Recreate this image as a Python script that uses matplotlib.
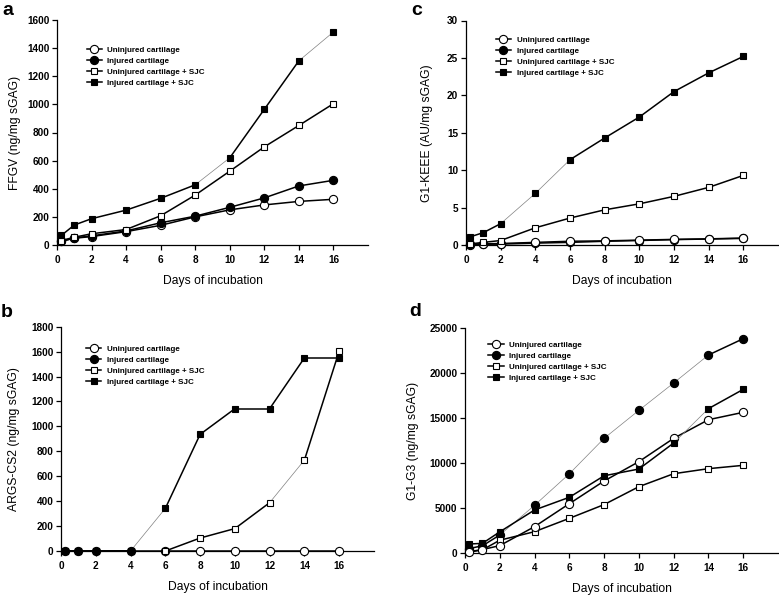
import numpy as np
import matplotlib
matplotlib.use("Agg")
import matplotlib.pyplot as plt
from matplotlib.lines import Line2D

plt.rcParams['font.family'] = ['Liberation Sans', 'DejaVu Sans']

# ---------------- data ----------------
days = [0.25, 1, 2, 4, 6, 8, 10, 12, 14, 16]
series_names = ["Uninjured cartilage", "Injured cartilage",
                "Uninjured cartilage + SJC", "Injured cartilage + SJC"]

# panel a: FFGV (ng/mg sGAG)
ffgv_uninj = [28, 48, 60, 95, 140, 200, 250, 285, 310, 325]
ffgv_inj = [25, 50, 65, 100, 158, 205, 268, 335, 420, 460]
ffgv_uninj_sjc = [32, 55, 80, 110, 208, 355, 525, 698, 850, 1005]
ffgv_inj_sjc = [68, 142, 187, 248, 332, 428, 620, 965, 1310, 1515]

# panel b: ARGS-CS2 (ng/mg sGAG)
args_uninj = [np.nan, np.nan, np.nan, np.nan, 0, 0, 0, 0, 0, 0]
args_inj = [0, 0, 0, 0, np.nan, np.nan, np.nan, np.nan, np.nan, np.nan]
args_uninj_sjc = [0, 0, 0, 0, 0, 104, 180, 388, 730, 1605]
args_inj_sjc = [0, 0, 0, 0, 342, 936, 1142, 1142, 1550, 1550]

# panel c: G1-KEEE (AU/mg sGAG)
keee_uninj = [0.1, 0.15, 0.2, 0.35, 0.5, 0.55, 0.65, 0.75, 0.82, 0.93]
keee_inj = [0.05, 0.1, 0.12, 0.25, 0.35, 0.5, 0.6, 0.72, 0.8, 0.88]
keee_uninj_sjc = [0.15, 0.35, 0.6, 2.3, 3.6, 4.7, 5.5, 6.5, 7.7, 9.3]
keee_inj_sjc = [1.1, 1.65, 2.85, 6.9, 11.4, 14.3, 17.1, 20.5, 23.0, 25.2]

# panel d: G1-G3 (ng/mg sGAG)
g1g3_uninj = [150, 380, 820, 2930, 5480, 8000, 10150, 12740, 14810, 15630]
g1g3_inj = [500, 800, 2000, 5300, 8800, 12740, 15850, 18890, 22000, 23810]
g1g3_uninj_sjc = [100, 350, 1420, 2370, 3850, 5380, 7370, 8810, 9370, 9740]
g1g3_inj_sjc = [1000, 1070, 2350, 4780, 6190, 8580, 9330, 12220, 16040, 18180]

# ---------------- styling ----------------
# (marker, filled)
styles = [("o", False), ("o", True), ("s", False), ("s", True)]
LW = 1.1
THIN_LW = 0.5
MS_CIRCLE = 5.9
MS_SQUARE = 5.0


def draw_series(ax, x, y, marker, filled, thin=(), z=3):
    x = np.asarray(x, float)
    y = np.asarray(y, float)
    for i in range(len(x) - 1):
        if np.isnan(y[i]) or np.isnan(y[i + 1]):
            continue
        if i in thin:
            ax.plot(x[i:i + 2], y[i:i + 2], color="#808080", lw=THIN_LW,
                    zorder=z, clip_on=False, solid_capstyle="butt")
        else:
            ax.plot(x[i:i + 2], y[i:i + 2], color="black", lw=LW,
                    zorder=z, clip_on=False, solid_capstyle="butt")
    ms = MS_CIRCLE if marker == "o" else MS_SQUARE
    ax.plot(x, y, linestyle="none", marker=marker, ms=ms,
            mfc="black" if filled else "white", mec="black", mew=0.8,
            zorder=z + 0.5, clip_on=False)


def legend_handles():
    hs = []
    for marker, filled in styles:
        ms = MS_CIRCLE if marker == "o" else MS_SQUARE
        hs.append(Line2D([], [], color="black", lw=LW, marker=marker, ms=ms,
                         mfc="black" if filled else "white", mec="black", mew=0.8))
    return hs


def setup_axes(ax, ymax, ystep, ylabel, ylab_x):
    ax.set_xlim(0, 18)
    ax.set_ylim(0, ymax)
    ax.set_xticks([0, 2, 4, 6, 8, 10, 12, 14, 16])
    ax.set_yticks(np.arange(0, ymax + ystep / 2, ystep))
    for s in ["top", "right"]:
        ax.spines[s].set_visible(False)
    for s in ["left", "bottom"]:
        ax.spines[s].set_linewidth(0.9)
    ax.tick_params(axis="both", direction="out", length=3.5, width=0.9,
                   labelsize=7.2)
    ax.tick_params(axis="x", pad=4)
    ax.tick_params(axis="y", pad=2)
    for lab in ax.get_xticklabels() + ax.get_yticklabels():
        lab.set_fontweight("bold")
    ax.set_ylabel(ylabel, fontsize=8.7)
    ax.yaxis.set_label_coords(ylab_x, 0.5)
    ax.set_xlabel("Days of incubation", fontsize=8.7)
    ax.xaxis.set_label_coords(0.5, -0.135)


def add_legend(ax, x, y):
    ax.legend(legend_handles(), series_names, loc="upper left",
              bbox_to_anchor=(x, y), frameon=False, borderpad=0,
              borderaxespad=0, handlelength=1.9, handletextpad=0.7,
              labelspacing=0.42, prop={"size": 5.8, "weight": "bold"})


W, H = 779, 600
fig = plt.figure(figsize=(W / 100, H / 100), dpi=100)


def axes_px(left, top, width, height):
    return fig.add_axes([left / W, 1 - (top + height) / H, width / W, height / H])


ax_a = axes_px(57, 20, 311, 225)
ax_c = axes_px(466, 20.5, 312, 224.5)
ax_b = axes_px(61, 326.7, 313, 224.3)
ax_d = axes_px(465, 328, 313, 225)

# panel a
setup_axes(ax_a, 1600, 200, "FFGV (ng/mg sGAG)", -0.115)
draw_series(ax_a, days, ffgv_uninj, "o", False, z=3)
draw_series(ax_a, days, ffgv_inj, "o", True, z=4)
draw_series(ax_a, days, ffgv_uninj_sjc, "s", False, z=5)
draw_series(ax_a, days, ffgv_inj_sjc, "s", True, thin=(5, 8), z=6)
add_legend(ax_a, 0.095, 0.885)

# panel c
setup_axes(ax_c, 30, 5, "G1-KEEE (AU/mg sGAG)", -0.106)
draw_series(ax_c, days, keee_inj, "o", True, z=3)
draw_series(ax_c, days, keee_uninj, "o", False, z=4)
draw_series(ax_c, days, keee_uninj_sjc, "s", False, z=5)
draw_series(ax_c, days, keee_inj_sjc, "s", True, thin=(2, 3), z=6)
add_legend(ax_c, 0.095, 0.93)

# panel b
setup_axes(ax_b, 1800, 200, "ARGS-CS2 (ng/mg sGAG)", -0.131)
draw_series(ax_b, days, args_uninj, "o", False, z=3)
draw_series(ax_b, days, args_inj_sjc, "s", True, thin=(3,), z=4)
draw_series(ax_b, days, args_uninj_sjc, "s", False, thin=(7,), z=5)
draw_series(ax_b, days, args_inj, "o", True, z=6)
add_legend(ax_b, 0.08, 0.918)

# panel d
setup_axes(ax_d, 25000, 5000, "G1-G3 (ng/mg sGAG)", -0.147)
draw_series(ax_d, days, g1g3_inj, "o", True, thin=(2, 3, 4, 5, 6, 7), z=3)
draw_series(ax_d, days, g1g3_uninj_sjc, "s", False, z=4)
draw_series(ax_d, days, g1g3_uninj, "o", False, z=5)
draw_series(ax_d, days, g1g3_inj_sjc, "s", True, thin=(7,), z=6)
add_legend(ax_d, 0.075, 0.942)

# panel letters
for letter, xp, yp in [("a", 2, 15), ("c", 411, 15), ("b", 1, 317), ("d", 409, 316)]:
    fig.text(xp / W, 1 - yp / H, letter, fontsize=14, fontweight="bold",
             ha="left", va="baseline")

fig.savefig("out.png", dpi=100)
